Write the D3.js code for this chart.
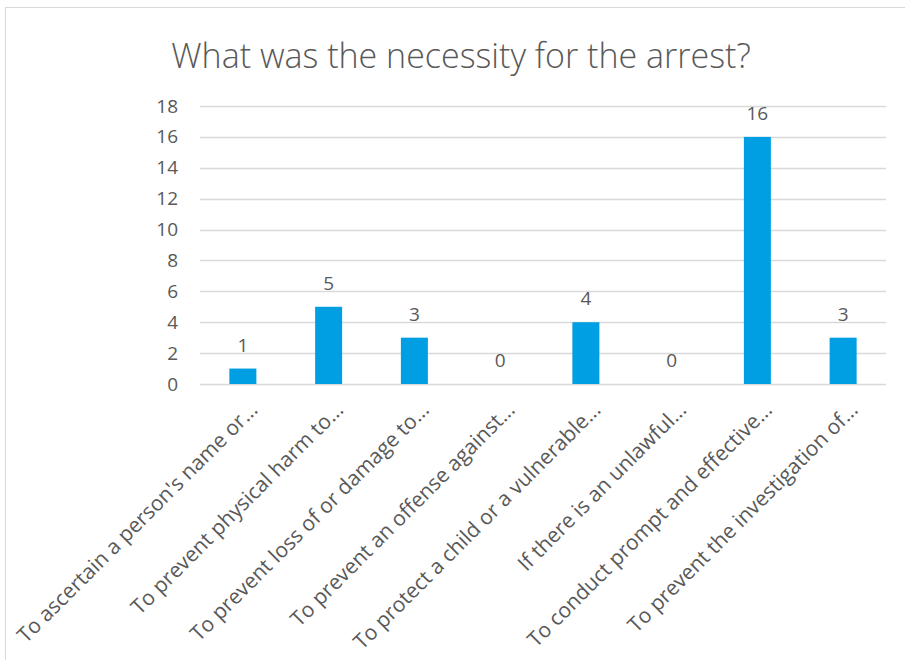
<!DOCTYPE html>
<html>
<head>
<meta charset="utf-8">
<script src="https://cdn.jsdelivr.net/npm/d3@7"></script>
<style>
  body { margin: 0; background: #fff; }
  text { font-family: "Open Sans", sans-serif; fill: #595959; }
</style>
</head>
<body>
<script>
// chart data
var categories = [
  "To ascertain a person's name or...",
  "To prevent physical harm to...",
  "To prevent loss of or damage to...",
  "To prevent an offense against...",
  "To protect a child or a vulnerable...",
  "If there is an unlawful...",
  "To conduct prompt and effective...",
  "To prevent the investigation of..."
];
var counts = [1, 5, 3, 0, 4, 0, 16, 3];
var yTicks = [0, 2, 4, 6, 8, 10, 12, 14, 16, 18];
var title = "What was the necessity for the arrest?";

var svgWidth = 905;
var svgHeight = 660;

var margin = { top: 106, right: 19, bottom: 276, left: 200 };
var width = svgWidth - margin.left - margin.right;
var height = svgHeight - margin.top - margin.bottom;

var svg = d3.select("body")
  .append("svg")
  .attr("width", svgWidth)
  .attr("height", svgHeight);

// chart frame
svg.append("rect")
  .attr("x", 5.5)
  .attr("y", 7.5)
  .attr("width", 910)
  .attr("height", 700)
  .attr("fill", "none")
  .attr("stroke", "#d9d9d9");

svg.append("text")
  .attr("x", 461)
  .attr("y", 68)
  .attr("text-anchor", "middle")
  .style("font-size", "34px")
  .style("font-weight", 300)
  .text(title);

var chartGroup = svg.append("g")
  .attr("transform", `translate(${margin.left}, ${margin.top})`);

var x = d3.scaleBand()
  .domain(categories)
  .range([0, width])
  .paddingInner(0.685)
  .paddingOuter(0.3425);

var y = d3.scaleLinear()
  .domain([0, 18])
  .range([height, 0]);

// gridlines
chartGroup.append("g")
  .selectAll("line")
  .data(yTicks)
  .enter()
  .append("line")
  .attr("x1", 0)
  .attr("x2", width)
  .attr("y1", d => Math.round(y(d)) + 0.5)
  .attr("y2", d => Math.round(y(d)) + 0.5)
  .attr("stroke", "#d9d9d9")
  .attr("stroke-width", 1.3);

// y axis labels
var leftAxis = d3.axisLeft(y).tickValues(yTicks).tickSize(0).tickPadding(22);
var yAxis = chartGroup.append("g").call(leftAxis);
yAxis.select(".domain").remove();
yAxis.selectAll("text")
  .style("font-size", "19px")
  .style("fill", "#595959")
  .style("font-family", "Open Sans, sans-serif");

// bars
chartGroup.selectAll(".bar")
  .data(counts)
  .enter()
  .append("rect")
  .attr("class", "bar")
  .attr("x", (d, i) => x(categories[i]))
  .attr("y", d => y(d))
  .attr("width", x.bandwidth())
  .attr("height", d => height - y(d))
  .attr("fill", "#009fe3");

// value labels
chartGroup.selectAll(".val")
  .data(counts)
  .enter()
  .append("text")
  .attr("class", "val")
  .attr("x", (d, i) => x(categories[i]) + x.bandwidth() / 2)
  .attr("y", d => y(d) - 17)
  .attr("text-anchor", "middle")
  .style("font-size", "19px")
  .text(d => d);

// category labels, rotated
chartGroup.selectAll(".cat")
  .data(categories)
  .enter()
  .append("text")
  .attr("class", "cat")
  .attr("text-anchor", "end")
  .attr("transform", d => `translate(${x(d) + x.bandwidth() / 2 + 16}, ${height + 27}) rotate(-45)`)
  .style("font-size", "21px")
  .text(d => d);
</script>
</body>
</html>
